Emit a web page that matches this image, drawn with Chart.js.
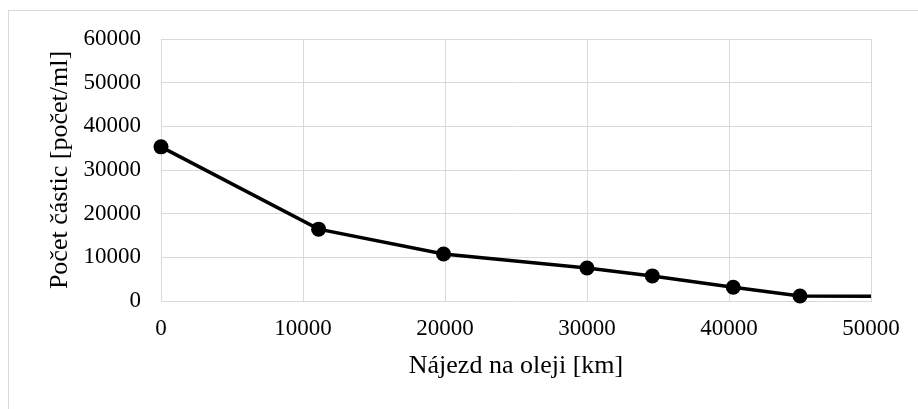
<!DOCTYPE html>
<html>
<head>
<meta charset="utf-8">
<script src="https://cdn.jsdelivr.net/npm/chart.js@4"></script>
<style>
  html, body { margin: 0; padding: 0; background: #fff; }
  #wrap { position: relative; width: 918px; height: 409px; overflow: hidden; }
  #frame { position: absolute; left: 8px; top: 10px; width: 930px; height: 420px; border: 1px solid #d9d9d9; box-sizing: border-box; pointer-events: none; }
  canvas { position: absolute; left: 0; top: 0; }
</style>
</head>
<body>
<div id="wrap">
  <canvas id="chart" width="918" height="409"></canvas>
  <div id="frame"></div>
</div>
<script>
// Nájezd na oleji [km] vs. počet částic [počet/ml]
const mileage   = [0, 11100, 19900, 30000, 34600, 40300, 45000, 50000];
const particles = [35300, 16450, 10750, 7550, 5750, 3150, 1150, 1100];
const markers   = [7.5, 7.5, 7.5, 7.5, 7.5, 7.5, 7.5, 0];   // last point has no marker

const xTitle = 'Nájezd na oleji [km]';
const yTitle = 'Počet částic [počet/ml]';

const serif = "'Liberation Serif', 'Times New Roman', serif";

new Chart(document.getElementById('chart'), {
  type: 'scatter',
  data: {
    datasets: [{
      data: mileage.map((x, i) => ({ x, y: particles[i] })),
      showLine: true,
      clip: false,
      borderColor: '#000',
      borderWidth: 3.5,
      backgroundColor: '#000',
      pointRadius: markers,
      pointHoverRadius: markers,
      pointBorderWidth: 0,
    }]
  },
  options: {
    responsive: false,
    animation: false,
    layout: { padding: { top: 39, right: 47, bottom: 0, left: 0 } },
    plugins: { legend: { display: false }, tooltip: { enabled: false } },
    scales: {
      x: {
        type: 'linear', min: 0, max: 50000,
        ticks: { stepSize: 10000, padding: 14, color: '#000', font: { family: serif, size: 23 }, callback: v => String(v) },
        grid: { color: '#d9d9d9', lineWidth: 1, drawTicks: false },
        border: { color: '#d9d9d9' },
        title: { display: true, text: xTitle, color: '#000', font: { family: serif, size: 26 }, padding: { top: 0, bottom: 27 } },
        afterFit: s => { s.height = 108; }
      },
      y: {
        min: 0, max: 60000,
        ticks: { stepSize: 10000, padding: 20, color: '#000', font: { family: serif, size: 23 }, callback: v => String(v) },
        grid: { color: '#d9d9d9', lineWidth: 1, drawTicks: false },
        border: { color: '#d9d9d9' },
        title: { display: true, text: yTitle, color: '#000', font: { family: serif, size: 26 }, padding: { top: 45, bottom: 0 } },
        afterFit: s => { s.width = 161; }
      }
    }
  }
});
</script>
</body>
</html>
